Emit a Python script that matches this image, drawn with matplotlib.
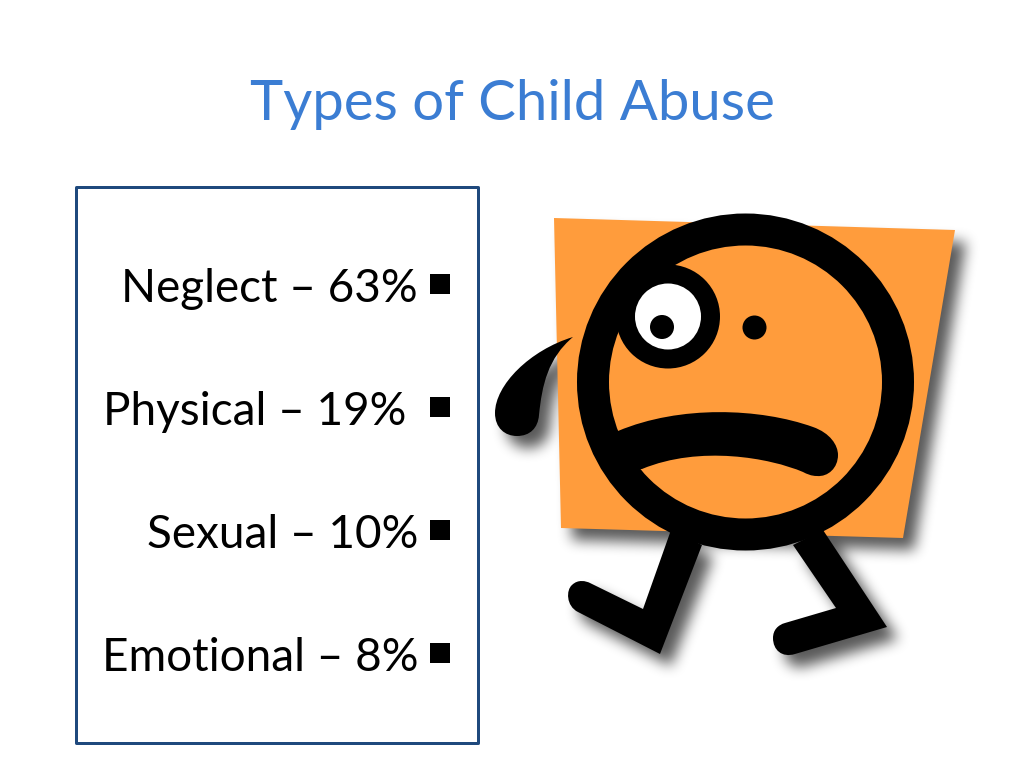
import numpy as np
import matplotlib
matplotlib.use("Agg")
import matplotlib.pyplot as plt
from matplotlib.patches import Rectangle, Polygon, Circle, PathPatch
from matplotlib.path import Path

title = "Types of Child Abuse"
categories = ["Neglect", "Physical", "Sexual", "Emotional"]
percents = [63, 19, 10, 8]
trailing = ["", "\u00a0", "", ""]

plt.rcParams['font.family'] = ['Lato', 'DejaVu Sans']
PX = 0.72


def new_canvas():
    f = plt.figure(figsize=(10.24, 7.68), dpi=100, facecolor='white')
    a = f.add_axes([0, 0, 1, 1])
    a.set_xlim(0, 1024)
    a.set_ylim(768, 0)
    a.axis('off')
    return f, a


fig, ax = new_canvas()

ax.text(512, 120, title, ha='center', va='baseline', fontsize=40.5, color='#3B7DD3')

ax.add_patch(Rectangle((76, 187), 402, 556, fc='white', ec='#1F497D', lw=3 * PX,
                       joinstyle='round', zorder=1))
for i, (c, p, t) in enumerate(zip(categories, percents, trailing)):
    base = 302 + i * 123
    ax.text(418, base, f"{c} \u2013 {p}%{t}", ha='right', va='baseline', fontsize=33, color='black', zorder=2)
    ax.add_patch(Rectangle((430, base - 28.5), 20, 20, fc='black', ec='none', zorder=2))

# Clip-art figure
quad = [(554, 218), (955, 230), (903, 538), (561, 528)]
M, L, C, Z = Path.MOVETO, Path.LINETO, Path.CURVE4, Path.CLOSEPOLY
tear = Path([(573, 337), (530, 350), (495, 385), (495, 413), (495, 428), (505, 436), (517, 436),
             (530, 436), (538, 428), (539, 415), (542, 385), (548, 358), (573, 337), (573, 337)],
            [M, C, C, C, C, C, C, C, C, C, C, C, C, Z])
mouth = Path([(600, 440), (618, 431), (680, 405), (760, 408), (813, 427),
              (830, 433), (838, 445), (838, 455), (838, 468), (828, 477), (817, 476),
              (811, 476), (807, 474), (803, 472), (770, 458), (700, 445), (642, 469),
              (615, 470), (600, 440)],
             [M, L, C, C, C, C, C, C, C, C, C, C, C, C, C, C, C, L, Z])
leg_l = Path([(671, 530), (702, 545), (660, 654), (578, 612), (566, 606), (566, 590), (572, 585),
              (578, 579), (586, 581), (590, 583), (643, 609), (671, 530)],
             [M, L, L, L, C, C, C, C, C, C, L, Z])
leg_r = Path([(793, 545), (823, 530), (887, 627), (795, 654), (782, 658), (773, 650), (773, 638),
              (773, 630), (778, 625), (785, 623), (836, 608), (793, 545)],
             [M, L, L, L, C, C, C, C, C, C, L, Z])
quad_path = Path(quad + [quad[0]], [M, L, L, L, Z])

# soft drop shadow: draw the silhouette off-screen and blur it
sf, sa = new_canvas()
for s in [quad_path, tear, leg_l, leg_r]:
    sa.add_patch(PathPatch(s, fc='black', ec='none'))
sf.canvas.draw()
mask = 1 - np.asarray(sf.canvas.buffer_rgba())[:, :, 0] / 255.0
plt.close(sf)


def box(a, r, axis):
    c = np.cumsum(np.insert(a, 0, 0, axis=axis), axis=axis)
    n = a.shape[axis]
    hi = np.clip(np.arange(n) + r + 1, 0, n)
    lo = np.clip(np.arange(n) - r, 0, n)
    return (np.take(c, hi, axis=axis) - np.take(c, lo, axis=axis)) / (2 * r + 1)


blur = mask
for _ in range(3):
    blur = box(box(blur, 6, 0), 6, 1)
blur = np.roll(np.roll(blur, 12, axis=0), 11, axis=1)
shadow = np.zeros(mask.shape + (4,))
shadow[:, :, 3] = blur * 0.65
ax.imshow(shadow, extent=(0, 1024, 768, 0), interpolation='bilinear', zorder=3, aspect='auto')
ax.set_xlim(0, 1024)
ax.set_ylim(768, 0)

orange = '#FF9C3C'
ax.add_patch(Polygon(quad, closed=True, fc=orange, ec='none', zorder=4))
for s in [tear, leg_l, leg_r]:
    ax.add_patch(PathPatch(s, fc='black', ec='none', zorder=5))
ax.add_patch(Circle((745.5, 382), 152.5, fc='none', ec='black', lw=32 * PX, zorder=7))
ax.add_patch(PathPatch(mouth, fc='black', ec='none', zorder=6))
ax.add_patch(Circle((668, 316.5), 52, fc='black', ec='none', zorder=8))
ax.add_patch(Circle((668, 316.5), 33, fc='white', ec='none', zorder=9))
ax.add_patch(Circle((662, 327), 12, fc='black', ec='none', zorder=10))
ax.add_patch(Circle((754.5, 327.5), 12, fc='black', ec='none', zorder=10))

fig.savefig('out.png', dpi=100)
